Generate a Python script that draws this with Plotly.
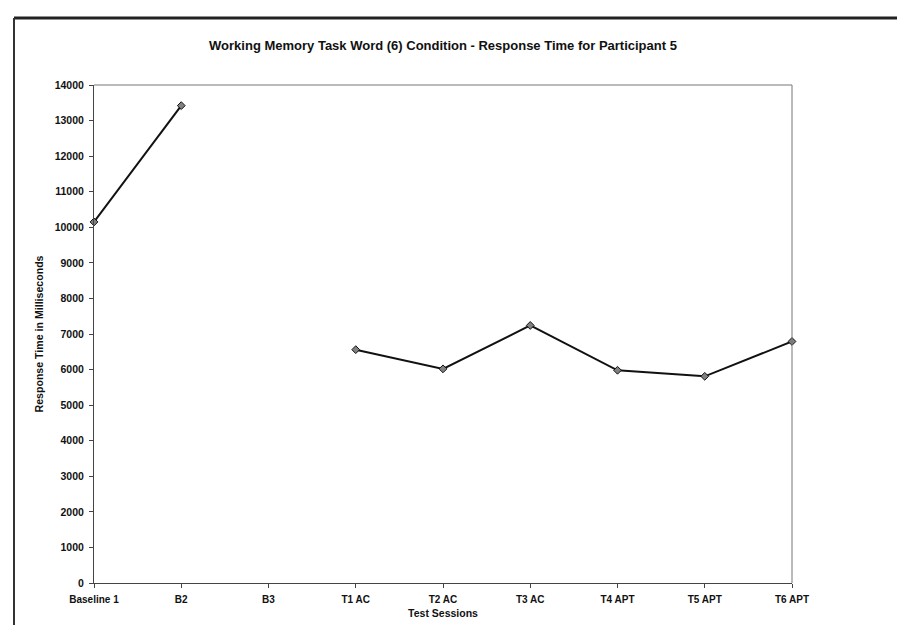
import plotly.graph_objects as go

sessions = ["Baseline 1", "B2", "B3", "T1 AC", "T2 AC", "T3 AC", "T4 APT", "T5 APT", "T6 APT"]
response_ms = [10150, 13420, None, 6560, 6020, 7240, 5980, 5810, 6790]
y_ticks = list(range(0, 14001, 1000))

FONT = "Liberation Sans, Arial, sans-serif"

fig = go.Figure()
fig.add_trace(go.Scatter(
    x=list(range(len(sessions))),
    y=response_ms,
    mode="lines+markers",
    connectgaps=False,
    line=dict(color="#111111", width=2),
    marker=dict(symbol="diamond", size=6, color="#808080",
                line=dict(color="#111111", width=1)),
    cliponaxis=False,
    showlegend=False,
))

fig.update_layout(
    width=905, height=625,
    margin=dict(l=86, r=121, t=77, b=50),
    paper_bgcolor="white", plot_bgcolor="white",
    font=dict(family=FONT, color="#111111"),
    title=dict(
        text="<b>Working Memory Task Word (6) Condition - Response Time for Participant 5</b>",
        x=0.5, xref="paper", xanchor="center",
        y=1 - 37 / 625, yref="container", yanchor="middle",
        font=dict(size=13, family=FONT, color="#111111"),
    ),
    xaxis=dict(
        range=[0, len(sessions) - 1],
        tickmode="array",
        tickvals=list(range(len(sessions))),
        ticktext=sessions,
        tickfont=dict(size=10, family=FONT, weight="bold", color="#111111"),
        ticks="outside", ticklen=4, tickcolor="#444444",
        ticklabelstandoff=3,
        showline=True, linecolor="#444444", linewidth=1,
        mirror=False,
        showgrid=False, zeroline=False,
        title=dict(text="<b>Test Sessions</b>", standoff=5,
                   font=dict(size=10.5, family=FONT, color="#111111")),
        automargin=False,
    ),
    yaxis=dict(
        range=[0, 14000],
        tickmode="array",
        tickvals=y_ticks,
        ticktext=[str(v) for v in y_ticks],
        tickfont=dict(size=10.5, family=FONT, weight="bold", color="#111111"),
        ticks="outside", ticklen=4, tickcolor="#444444",
        ticklabelstandoff=3,
        showline=True, linecolor="#444444", linewidth=1,
        showgrid=False, zeroline=False,
        title=dict(text="<b>Response Time in Milliseconds</b>", standoff=8,
                   font=dict(size=10.6, family=FONT, color="#111111")),
        automargin=False,
    ),
    shapes=[
        dict(type="line", xref="paper", yref="paper", x0=0, x1=1, y0=1, y1=1,
             line=dict(color="#777777", width=1)),
        dict(type="line", xref="paper", yref="paper", x0=1, x1=1, y0=0, y1=1,
             line=dict(color="#777777", width=1)),
        dict(type="line", xref="paper", yref="paper",
             x0=(6 - 86) / 698, x1=(905 - 86) / 698,
             y0=(575 - 10) / 498, y1=(575 - 10) / 498,
             line=dict(color="#222222", width=3)),
        dict(type="line", xref="paper", yref="paper",
             x0=(6 - 86) / 698, x1=(6 - 86) / 698,
             y0=(575 - 10) / 498, y1=(575 - 625) / 498,
             line=dict(color="#333333", width=2)),
    ],
)

fig.write_html("out.html")
